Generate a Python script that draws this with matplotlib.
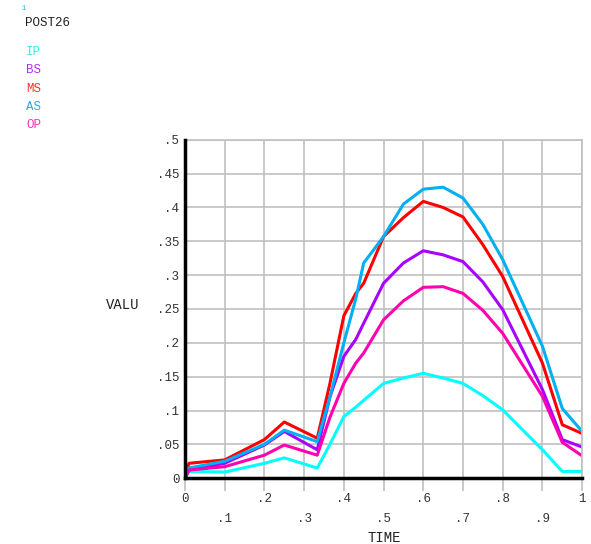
#!/usr/bin/env python3

# ANSYS POST26 style time-history plot

from matplotlib import pyplot as plt

time = [0, 0.01, 0.1, 0.2, 0.25, 0.333, 0.365, 0.4, 0.43, 0.45, 0.5,
        0.55, 0.6, 0.65, 0.7, 0.75, 0.8, 0.9, 0.95, 1.0]

ip = [0, 0.010, 0.009, 0.022, 0.030, 0.015, 0.050, 0.091, 0.105, 0.115, 0.140,
      0.148, 0.155, 0.148, 0.140, 0.122, 0.101, 0.042, 0.010, 0.010]
bs = [0, 0.012, 0.022, 0.049, 0.069, 0.042, 0.120, 0.180, 0.205, 0.229, 0.288,
      0.318, 0.336, 0.330, 0.320, 0.290, 0.249, 0.131, 0.057, 0.046]
ms = [0, 0.022, 0.027, 0.057, 0.083, 0.059, 0.140, 0.240, 0.273, 0.288, 0.357,
      0.385, 0.409, 0.400, 0.386, 0.345, 0.298, 0.170, 0.079, 0.066]
as_ = [0, 0.015, 0.025, 0.050, 0.071, 0.054, 0.120, 0.200, 0.265, 0.318, 0.357,
       0.405, 0.427, 0.430, 0.414, 0.375, 0.323, 0.195, 0.103, 0.069]
op = [0, 0.012, 0.017, 0.034, 0.049, 0.034, 0.090, 0.140, 0.170, 0.185, 0.234,
      0.262, 0.282, 0.283, 0.273, 0.248, 0.214, 0.121, 0.053, 0.033]

names = ["IP", "BS", "MS", "AS", "OP"]
colors = ["#00ffff", "#aa00ff", "#ff0000", "#00b0f0", "#ff00b0"]
label_colors = ["#30f0f0", "#b030ff", "#ff3030", "#30a8f0", "#ff30c0"]

x_ticks = [0, 0.1, 0.2, 0.3, 0.4, 0.5, 0.6, 0.7, 0.8, 0.9, 1.0]
x_labels = ["0", ".1", ".2", ".3", ".4", ".5", ".6", ".7", ".8", ".9", "1"]
y_ticks = [0, 0.05, 0.1, 0.15, 0.2, 0.25, 0.3, 0.35, 0.4, 0.45, 0.5]
y_labels = ["0", ".05", ".1", ".15", ".2", ".25", ".3", ".35", ".4", ".45", ".5"]

mono = "Liberation Mono"

fig = plt.figure(figsize=(5.91, 5.44), dpi=100)
ax = fig.add_axes([0.313, 0.121, 0.672, 0.622])

for y, c in zip([ip, bs, ms, as_, op], colors):
    ax.plot(time, y, color=c, linewidth=2.2, solid_joinstyle="round")

ax.set_xlim(0, 1)
ax.set_ylim(0, 0.5)
ax.set_xticks(x_ticks)
ax.set_yticks(y_ticks)
ax.set_xticklabels([])
ax.set_yticklabels(y_labels, fontfamily=mono, fontsize=9, color="#333333")
ax.grid(True, color="#c0c0c0", linewidth=1.2)
ax.set_axisbelow(True)
ax.tick_params(axis="x", length=9, color="#c0c0c0", width=1.2)
ax.tick_params(axis="y", length=0, pad=4)

for s in ["top", "right"]:
    ax.spines[s].set_color("#c0c0c0")
    ax.spines[s].set_linewidth(1.2)
for s in ["left", "bottom"]:
    ax.spines[s].set_color("black")
    ax.spines[s].set_linewidth(2.5)
    ax.spines[s].set_zorder(5)

# staggered x tick labels
for i, (xv, lab) in enumerate(zip(x_ticks, x_labels)):
    yoff = -0.062 if i % 2 == 0 else -0.12
    ax.text(xv, yoff, lab, transform=ax.get_xaxis_transform(), ha="center",
            va="center", fontfamily=mono, fontsize=9, color="#333333")

fig.text(0.65, 0.011, "TIME", fontfamily=mono, fontsize=10, ha="center",
         va="center", color="#222222")
fig.text(0.18, 0.44, "VALU", fontfamily=mono, fontsize=10, ha="left",
         va="center", color="#222222")

fig.text(0.036, 0.985, "1", fontfamily=mono, fontsize=5, color="#00c0c0",
         va="center")
fig.text(0.042, 0.958, "POST26", fontfamily=mono, fontsize=9, color="#222222",
         va="center")
for i, (n, c) in enumerate(zip(names, label_colors)):
    fig.text(0.044, 0.904 - i * 0.0335, n, fontfamily=mono, fontsize=9,
             color=c, va="center")

fig.savefig("out.png", dpi=100)
